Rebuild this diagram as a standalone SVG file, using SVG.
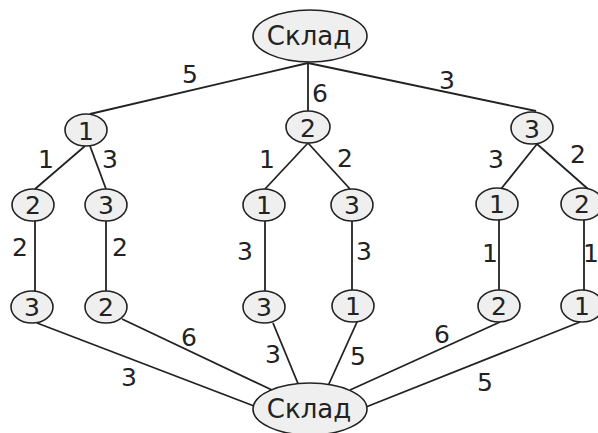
<svg xmlns="http://www.w3.org/2000/svg" width="598" height="433" viewBox="0 0 598 433">
<style>
.n ellipse{fill:#efefef;stroke:#222;stroke-width:1.6}
.e line{stroke:#222;stroke-width:1.8}
text{font-family:"DejaVu Sans","Liberation Sans",sans-serif;font-size:25px;fill:#222;text-anchor:middle}
.big{font-size:26px}
</style>
<rect width="598" height="433" fill="#fff"/>
<g id="connectors" class="e">
<line x1="308" y1="63" x2="90" y2="114"/>
<line x1="308" y1="63" x2="308" y2="111"/>
<line x1="308" y1="63" x2="536" y2="111"/>
<line x1="85" y1="146" x2="35" y2="189"/>
<line x1="90" y1="146" x2="106" y2="189"/>
<line x1="308" y1="143" x2="265" y2="189"/>
<line x1="308" y1="143" x2="350" y2="189"/>
<line x1="537" y1="144" x2="501" y2="189"/>
<line x1="537" y1="144" x2="588" y2="189"/>
<line x1="35" y1="221" x2="35" y2="291"/>
<line x1="106" y1="221" x2="106" y2="291"/>
<line x1="265" y1="221" x2="265" y2="291"/>
<line x1="352" y1="221" x2="352" y2="290"/>
<line x1="499" y1="220" x2="499" y2="290"/>
<line x1="584" y1="220" x2="584" y2="290"/>
<line x1="37" y1="323" x2="254" y2="406"/>
<line x1="122" y1="319" x2="272" y2="390"/>
<line x1="273" y1="323" x2="299" y2="386"/>
<line x1="357" y1="322" x2="328" y2="386"/>
<line x1="500" y1="322" x2="350" y2="390"/>
<line x1="580" y1="322" x2="366" y2="407"/>
</g>
<g id="labels">
<text x="190" y="83">5</text>
<text x="320" y="102">6</text>
<text x="447" y="89">3</text>
<text x="46" y="168">1</text>
<text x="110" y="168">3</text>
<text x="267" y="168">1</text>
<text x="345" y="167">2</text>
<text x="496" y="168">3</text>
<text x="578" y="163">2</text>
<text x="20" y="256">2</text>
<text x="120" y="256">2</text>
<text x="245" y="260">3</text>
<text x="364" y="260">3</text>
<text x="490" y="262">1</text>
<text x="591" y="262">1</text>
<text x="129" y="386">3</text>
<text x="189" y="346">6</text>
<text x="273" y="363">3</text>
<text x="358" y="365">5</text>
<text x="442" y="343">6</text>
<text x="485" y="391">5</text>
</g>
<g id="sklad-top" class="n"><ellipse cx="310" cy="36" rx="57" ry="26"/><text class="big" x="309" y="45">Склад</text></g>
<g id="l1-1" class="n"><ellipse cx="86" cy="130" rx="21" ry="16"/><text x="86" y="140">1</text></g>
<g id="l1-2" class="n"><ellipse cx="308" cy="127" rx="22" ry="16"/><text x="308" y="137">2</text></g>
<g id="l1-3" class="n"><ellipse cx="532" cy="128" rx="21" ry="16"/><text x="532" y="138">3</text></g>
<g id="l2-1" class="n"><ellipse cx="33" cy="205" rx="21" ry="16"/><text x="33" y="214">2</text></g>
<g id="l2-2" class="n"><ellipse cx="106" cy="205" rx="21" ry="16"/><text x="106" y="214">3</text></g>
<g id="l2-3" class="n"><ellipse cx="264" cy="205" rx="21" ry="16"/><text x="264" y="214">1</text></g>
<g id="l2-4" class="n"><ellipse cx="352" cy="205" rx="21" ry="16"/><text x="352" y="214">3</text></g>
<g id="l2-5" class="n"><ellipse cx="497" cy="204" rx="21" ry="16"/><text x="497" y="213">1</text></g>
<g id="l2-6" class="n"><ellipse cx="582" cy="204" rx="21" ry="16"/><text x="582" y="213">2</text></g>
<g id="l3-1" class="n"><ellipse cx="32" cy="307" rx="21" ry="16"/><text x="32" y="316">3</text></g>
<g id="l3-2" class="n"><ellipse cx="106" cy="307" rx="21" ry="16"/><text x="106" y="316">2</text></g>
<g id="l3-3" class="n"><ellipse cx="264" cy="307" rx="21" ry="16"/><text x="264" y="316">3</text></g>
<g id="l3-4" class="n"><ellipse cx="353" cy="306" rx="21" ry="16"/><text x="353" y="315">1</text></g>
<g id="l3-5" class="n"><ellipse cx="499" cy="306" rx="21" ry="16"/><text x="499" y="315">2</text></g>
<g id="l3-6" class="n"><ellipse cx="582" cy="306" rx="21" ry="16"/><text x="582" y="315">1</text></g>
<g id="sklad-bottom" class="n"><ellipse cx="310" cy="409" rx="57" ry="26"/><text class="big" x="309" y="418">Склад</text></g>
</svg>
